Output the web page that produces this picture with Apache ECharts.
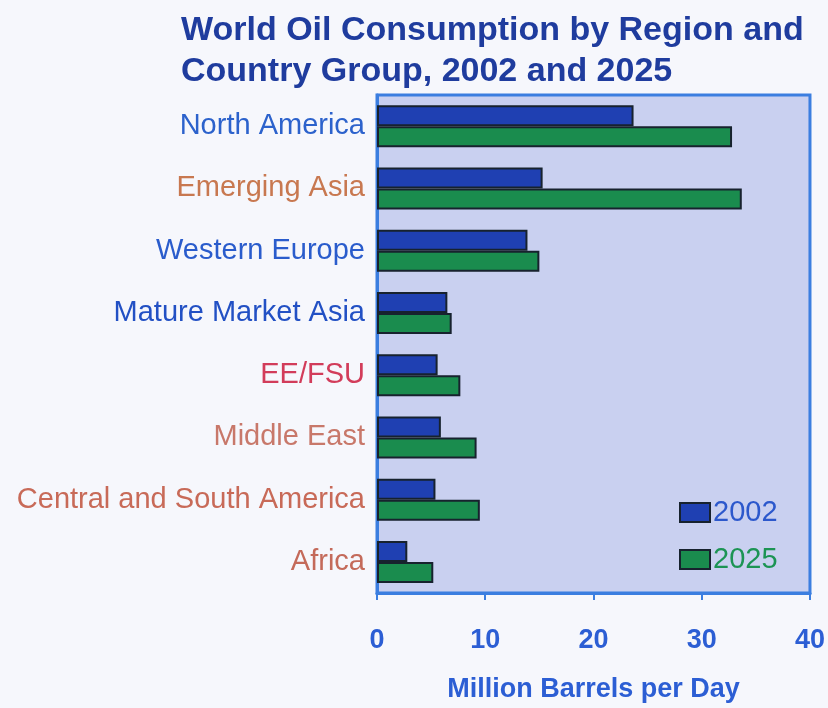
<!DOCTYPE html>
<html>
<head>
<meta charset="utf-8">
<title>World Oil Consumption by Region and Country Group</title>
<script src="https://cdn.jsdelivr.net/npm/echarts@6/dist/echarts.min.js"></script>
<style>
  html, body { margin: 0; padding: 0; background: #f6f7fc; }
  #chart { width: 828px; height: 708px; }
</style>
</head>
<body>
<div id="chart"></div>
<script>
// Regions, top to bottom
const regions = [
  'North America', 'Emerging Asia', 'Western Europe', 'Mature Market Asia',
  'EE/FSU', 'Middle East', 'Central and South America', 'Africa'
];
// Label colour for each region group
const regionColors = [
  '#2c62cc', '#c87850', '#2a5ccc', '#2250c4',
  '#d23c5a', '#c8786a', '#c86a58', '#c46a5a'
];
// Million barrels per day
const years = ['2002', '2025'];
const values2002 = [23.7, 15.3, 13.9, 6.5, 5.6, 5.9, 5.4, 2.8];
const values2025 = [32.8, 33.7, 15.0, 6.9, 7.7, 9.2, 9.5, 5.2];
const xTicks = { min: 0, max: 40, interval: 10 };

const chart = echarts.init(document.getElementById('chart'));
const axisBlue = '#3b7ee0';
const font = 'Liberation Sans, Arial, sans-serif';

chart.setOption({
  backgroundColor: '#f6f7fc',
  animation: false,
  title: {
    text: 'World Oil Consumption by Region and\nCountry Group, 2002 and 2025',
    left: 176,
    top: 5,
    textStyle: {
      fontFamily: font,
      fontWeight: 'bold',
      fontSize: 34,
      lineHeight: 41,
      color: '#1f3c9e'
    }
  },
  legend: {
    orient: 'vertical',
    left: 674,
    top: 493,
    icon: 'rect',
    itemWidth: 30,
    itemHeight: 19,
    itemGap: 18,
    data: [
      { name: years[0], textStyle: { color: '#2c58cc' } },
      { name: years[1], textStyle: { color: '#1c9454' } }
    ],
    textStyle: {
      fontFamily: font,
      fontSize: 29,
      padding: [0, 0, 0, -2]
    }
  },
  grid: {
    left: 377,
    right: 16,
    top: 95,
    bottom: 101,
    show: true,
    backgroundColor: '#c9d0f0',
    borderColor: axisBlue,
    borderWidth: 3
  },
  xAxis: {
    type: 'value',
    min: xTicks.min,
    max: xTicks.max,
    interval: xTicks.interval,
    name: 'Million Barrels per Day',
    nameLocation: 'middle',
    nameGap: 83,
    nameTextStyle: {
      fontFamily: font,
      fontWeight: 'bold',
      fontSize: 27,
      color: '#2c5ed4'
    },
    axisLine: { show: true, lineStyle: { color: axisBlue, width: 3 } },
    axisTick: { show: true, length: 7, lineStyle: { color: axisBlue, width: 2 } },
    splitLine: { show: false },
    axisLabel: {
      margin: 34,
      fontFamily: font,
      fontWeight: 'bold',
      fontSize: 27,
      color: '#2c5ed4'
    }
  },
  yAxis: {
    type: 'category',
    inverse: true,
    data: regions.map((r, i) => ({ value: r, textStyle: { color: regionColors[i] } })),
    axisLine: { show: true, lineStyle: { color: axisBlue, width: 3 } },
    axisTick: { show: false },
    axisLabel: {
      margin: 12,
      fontFamily: font,
      fontSize: 29
    }
  },
  series: [
    {
      name: years[0],
      type: 'bar',
      data: values2002,
      barWidth: 21,
      barGap: '0%',
      itemStyle: { color: '#1f40b2', borderColor: '#17222e', borderWidth: 2 }
    },
    {
      name: years[1],
      type: 'bar',
      data: values2025,
      barWidth: 21,
      barGap: '0%',
      itemStyle: { color: '#1a8c4e', borderColor: '#17222e', borderWidth: 2 }
    }
  ]
});
</script>
</body>
</html>
